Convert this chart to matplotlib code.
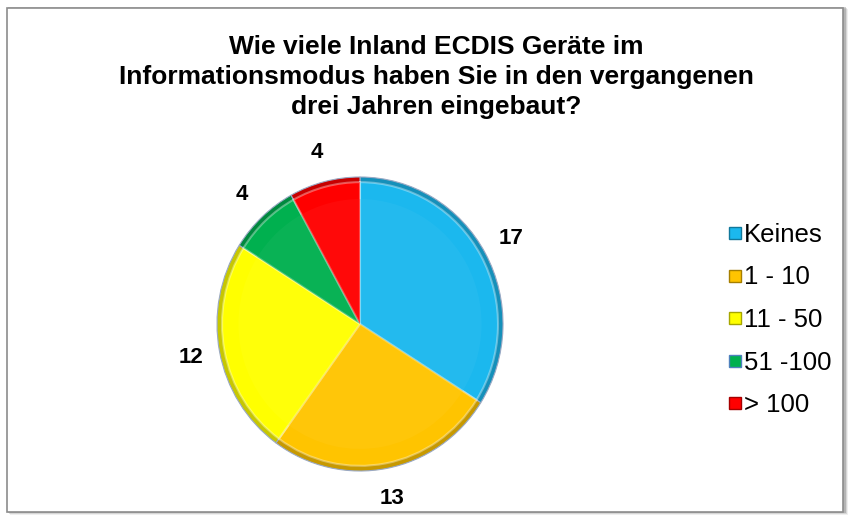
import numpy as np
import matplotlib.pyplot as plt
from matplotlib.patches import Rectangle
from matplotlib.lines import Line2D
from matplotlib.colors import to_rgb

plt.rcParams['font.family'] = ['Liberation Sans', 'DejaVu Sans']

# data
categories = ['Keines', '1 - 10', '11 - 50', '51 -100', '> 100']
values = [17, 13, 12, 4, 4]
colors = ['#1BB8EE', '#FFC400', '#FFFF00', '#00B04F', '#FF0000']
title = 'Wie viele Inland ECDIS Geräte im\nInformationsmodus haben Sie in den vergangenen\ndrei Jahren eingebaut?'

W, H = 850, 522
fig = plt.figure(figsize=(W / 100, H / 100), dpi=100)
fig.patch.set_facecolor('white')


def shade(c, f):
    r = np.array(to_rgb(c))
    if f < 0:
        return tuple(r * (1 + f))
    return tuple(r + (1 - r) * f)


# frame with soft shadow
for i, a in enumerate([0.10, 0.18, 0.30]):
    off = 3 - i
    fig.patches.append(Rectangle(((7 + off) / W, (10 - off) / H), 838 / W, 506 / H,
                                 transform=fig.transFigure, facecolor=(0.4, 0.4, 0.4, a),
                                 edgecolor='none', zorder=0))
fig.patches.append(Rectangle((7 / W, 10 / H), 836 / W, 504 / H, transform=fig.transFigure,
                             facecolor='white', edgecolor='#8c8c8c', lw=1.2, zorder=1))

fig.text(436 / W, 1 - 77 / H, title, ha='center', va='center', fontsize=19,
         fontweight='bold', linespacing=1.32)

# pie axes (slightly taller than wide, as in the original)
cx, cy, rx, ry = 360, 324, 143, 147
ax = fig.add_axes([(cx - rx) / W, 1 - (cy + ry) / H, 2 * rx / W, 2 * ry / H])
ax.set_zorder(2)

# darker rim, then body, then a faint highlight to fake the bevel
ax.pie(values, colors=[shade(c, -0.22) for c in colors], startangle=90,
       counterclock=False, radius=1.0,
       wedgeprops=dict(edgecolor='#9aa9c4', linewidth=0.8))
wedges, texts = ax.pie(values, colors=colors, startangle=90, counterclock=False,
                       radius=0.965, labels=[str(v) for v in values], labeldistance=1.25,
                       wedgeprops=dict(edgecolor=(1, 1, 1, 0.35), linewidth=1.5),
                       textprops=dict(fontsize=16, fontweight='bold', color='black'))
for t in texts:
    t.set_ha('center')
    t.set_va('center')
ax.pie(values, colors=[shade(c, 0.12) for c in colors], startangle=90, counterclock=False,
       radius=0.85, wedgeprops=dict(edgecolor='none', linewidth=0, alpha=0.3))
ax.set_xlim(-1, 1)
ax.set_ylim(-1, 1)
ax.set_aspect('auto')

# legend
handles = []
for lab, c in zip(categories, colors):
    ec = '#4F81BD' if lab == '51 -100' else shade(c, -0.35)
    handles.append(Line2D([], [], marker='s', linestyle='none', markersize=8.5,
                          markerfacecolor=c, markeredgecolor=ec, markeredgewidth=1, label=lab))
fig.legend(handles=handles, loc='center left', bbox_to_anchor=(714 / W, 1 - 320 / H),
           frameon=False, fontsize=18.5, labelspacing=0.72, handlelength=0.6,
           handletextpad=0.05, borderpad=0)

fig.savefig('out.png', dpi=100)
